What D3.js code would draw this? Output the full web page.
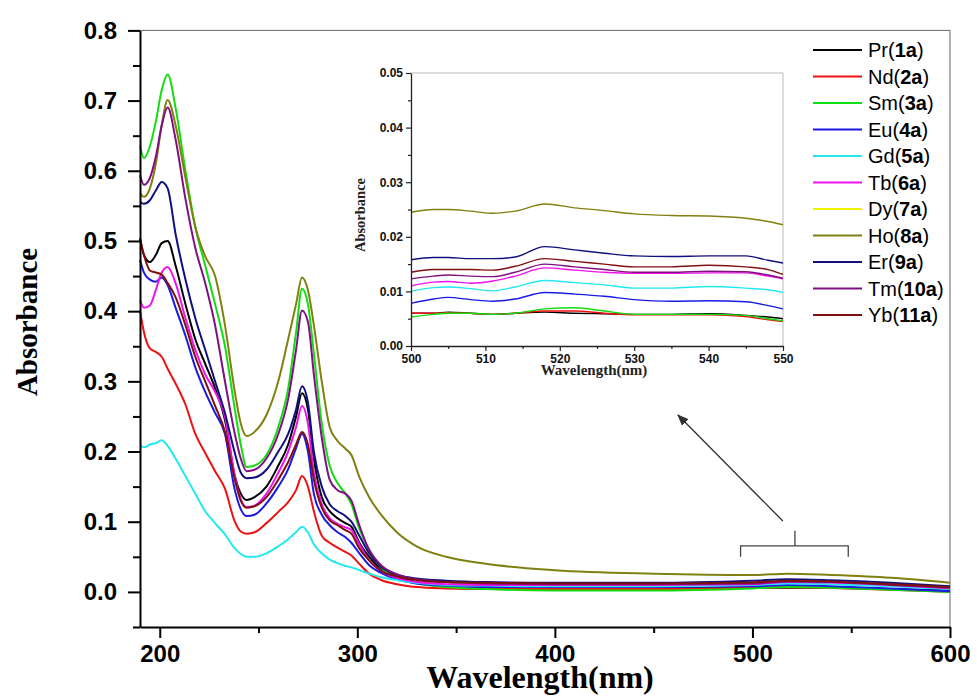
<!DOCTYPE html>
<html>
<head>
<meta charset="utf-8">
<script src="https://cdn.jsdelivr.net/npm/d3@7.9.0/dist/d3.min.js"></script>
<style>
  body { margin: 0; background: #fff; }
  svg { display: block; }
</style>
</head>
<body>
<svg id="chart" width="977" height="696"></svg>
<script>
// main spectrum, 190-600 nm
const wavelengths = [190, 192, 195, 198, 201, 204, 208, 213, 218, 223, 228, 233, 238, 241, 244, 248, 254, 260, 265, 269,
                     272, 275, 278, 282, 286, 290, 294, 297, 301, 306, 312, 320, 330, 345, 365, 400, 450, 500, 518, 540, 570, 600];

const pr = [0.503, 0.48, 0.47, 0.48, 0.497, 0.5, 0.465, 0.41, 0.36, 0.325, 0.29, 0.245, 0.165, 0.14, 0.131, 0.135, 0.15, 0.18, 0.21, 0.25,
            0.283, 0.26, 0.19, 0.135, 0.115, 0.105, 0.098, 0.093, 0.07, 0.05, 0.033, 0.022, 0.014, 0.01, 0.007, 0.006, 0.006, 0.006, 0.006, 0.006, 0.004, 0.002];
const nd = [0.401, 0.37, 0.347, 0.342, 0.335, 0.318, 0.297, 0.267, 0.225, 0.198, 0.172, 0.147, 0.1, 0.086, 0.083, 0.085, 0.098, 0.114, 0.128, 0.145,
            0.165, 0.15, 0.115, 0.08, 0.07, 0.063, 0.057, 0.052, 0.04, 0.026, 0.017, 0.011, 0.007, 0.005, 0.004, 0.004, 0.004, 0.006, 0.0065, 0.0055, 0.003, 0.0];
const sm = [0.636, 0.618, 0.635, 0.67, 0.715, 0.737, 0.69, 0.6, 0.52, 0.465, 0.41, 0.35, 0.26, 0.21, 0.178, 0.18, 0.195, 0.235, 0.29, 0.37,
            0.432, 0.41, 0.34, 0.24, 0.18, 0.155, 0.14, 0.125, 0.09, 0.06, 0.035, 0.02, 0.012, 0.007, 0.004, 0.002, 0.002, 0.005, 0.007, 0.006, 0.003, 0.0];
const eu = [0.473, 0.455, 0.445, 0.442, 0.448, 0.437, 0.405, 0.365, 0.32, 0.285, 0.255, 0.225, 0.145, 0.118, 0.108, 0.11, 0.126, 0.15, 0.175, 0.205,
            0.225, 0.2, 0.14, 0.11, 0.095, 0.085, 0.078, 0.07, 0.055, 0.038, 0.027, 0.018, 0.012, 0.009, 0.007, 0.007, 0.007, 0.008, 0.0098, 0.0082, 0.005, 0.001];
const gd = [0.209, 0.206, 0.21, 0.212, 0.216, 0.208, 0.19, 0.165, 0.14, 0.115, 0.098, 0.082, 0.062, 0.054, 0.05, 0.05, 0.055, 0.065, 0.075, 0.085,
            0.093, 0.085, 0.068, 0.055, 0.046, 0.041, 0.037, 0.035, 0.031, 0.026, 0.021, 0.017, 0.013, 0.01, 0.009, 0.008, 0.008, 0.01, 0.012, 0.0108, 0.008, 0.004];
const tb = [0.416, 0.405, 0.408, 0.43, 0.455, 0.463, 0.44, 0.39, 0.345, 0.31, 0.285, 0.25, 0.165, 0.132, 0.121, 0.123, 0.14, 0.17, 0.2, 0.235,
            0.265, 0.24, 0.17, 0.125, 0.105, 0.097, 0.092, 0.088, 0.068, 0.045, 0.03, 0.02, 0.014, 0.011, 0.01, 0.01, 0.01, 0.011, 0.0142, 0.0135, 0.01, 0.005];
const ho = [0.568, 0.563, 0.575, 0.61, 0.665, 0.701, 0.665, 0.59, 0.52, 0.478, 0.45, 0.38, 0.285, 0.24, 0.222, 0.228, 0.252, 0.3, 0.36, 0.41,
            0.448, 0.43, 0.38, 0.3, 0.235, 0.215, 0.204, 0.195, 0.164, 0.135, 0.11, 0.085, 0.065, 0.05, 0.04, 0.031, 0.026, 0.024, 0.026, 0.024, 0.02, 0.013];
const er = [0.556, 0.553, 0.558, 0.572, 0.584, 0.575, 0.51, 0.445, 0.39, 0.345, 0.3, 0.255, 0.198, 0.17, 0.162, 0.163, 0.174, 0.2, 0.225, 0.26,
            0.293, 0.27, 0.2, 0.15, 0.125, 0.115, 0.108, 0.1, 0.08, 0.055, 0.036, 0.025, 0.019, 0.016, 0.014, 0.013, 0.013, 0.016, 0.018, 0.0165, 0.013, 0.008];
const tm = [0.594, 0.58, 0.59, 0.62, 0.665, 0.69, 0.645, 0.56, 0.49, 0.44, 0.38, 0.3, 0.225, 0.19, 0.172, 0.174, 0.19, 0.225, 0.275, 0.345,
            0.401, 0.385, 0.31, 0.22, 0.16, 0.145, 0.14, 0.13, 0.095, 0.06, 0.038, 0.025, 0.018, 0.014, 0.012, 0.011, 0.011, 0.012, 0.015, 0.014, 0.01, 0.006];
const yb = [0.504, 0.48, 0.458, 0.455, 0.452, 0.44, 0.42, 0.38, 0.335, 0.3, 0.265, 0.228, 0.16, 0.13, 0.12, 0.122, 0.135, 0.16, 0.185, 0.21,
            0.228, 0.21, 0.16, 0.12, 0.102, 0.095, 0.088, 0.083, 0.062, 0.045, 0.03, 0.022, 0.017, 0.014, 0.013, 0.012, 0.012, 0.0135, 0.016, 0.015, 0.011, 0.007];

// inset, 500-550 nm
const insetWavelengths = [500, 503, 505, 508, 511, 514, 518, 522, 526, 530, 535, 540, 545, 548, 550];
const insetPr = [0.006, 0.006, 0.0062, 0.006, 0.0058, 0.006, 0.0062, 0.006, 0.0059, 0.0058, 0.0058, 0.0059, 0.0056, 0.0053, 0.005];
const insetNd = [0.006, 0.006, 0.0061, 0.006, 0.0058, 0.006, 0.0064, 0.0064, 0.006, 0.0057, 0.0057, 0.0057, 0.0054, 0.0048, 0.0045];
const insetSm = [0.0053, 0.0058, 0.006, 0.006, 0.0058, 0.006, 0.0068, 0.007, 0.0064, 0.0058, 0.0058, 0.0058, 0.0056, 0.005, 0.0046];
const insetEu = [0.0078, 0.0086, 0.0089, 0.0085, 0.0082, 0.0086, 0.0098, 0.0095, 0.0091, 0.0085, 0.0082, 0.0083, 0.0081, 0.0074, 0.0068];
const insetGd = [0.01, 0.0107, 0.0108, 0.0105, 0.0101, 0.0108, 0.012, 0.0116, 0.0112, 0.0106, 0.0106, 0.0109, 0.0106, 0.0103, 0.0098];
const insetTb = [0.011, 0.0117, 0.0118, 0.0115, 0.0119, 0.0128, 0.0143, 0.0139, 0.0135, 0.0133, 0.0133, 0.0134, 0.0134, 0.0128, 0.0123];
const insetHo = [0.0245, 0.025, 0.025, 0.0247, 0.0243, 0.0247, 0.026, 0.0253, 0.0248, 0.0242, 0.0239, 0.0238, 0.0234, 0.0228, 0.0222];
const insetEr = [0.0158, 0.0162, 0.0162, 0.016, 0.016, 0.0163, 0.0182, 0.0176, 0.017, 0.0165, 0.0164, 0.0165, 0.0165, 0.0157, 0.0152];
const insetTm = [0.0123, 0.0128, 0.013, 0.0128, 0.0127, 0.0135, 0.015, 0.0145, 0.014, 0.0135, 0.0135, 0.0137, 0.0136, 0.013, 0.0124];
const insetYb = [0.0135, 0.014, 0.014, 0.014, 0.0139, 0.0146, 0.016, 0.0155, 0.015, 0.0145, 0.0145, 0.0148, 0.0145, 0.014, 0.0131];

const elements = ['Pr', 'Nd', 'Sm', 'Eu', 'Gd', 'Tb', 'Dy', 'Ho', 'Er', 'Tm', 'Yb'];
const codes    = ['1a', '2a', '3a', '4a', '5a', '6a', '7a', '8a', '9a', '10a', '11a'];
const colors   = ['#000000', '#ee1111', '#11dd11', '#1a1ae6', '#22e8f0', '#f010f0', '#f0f000', '#808010', '#10107f', '#801080', '#801010'];
// Dy (7a) is in the legend but no yellow trace shows in the figure
const mainValues  = [pr, nd, sm, eu, gd, tb, null, ho, er, tm, yb];
const insetValues = [insetPr, insetNd, insetSm, insetEu, insetGd, insetTb, null, insetHo, insetEr, insetTm, insetYb];

const xTicks = [200, 300, 400, 500, 600];
const xMinor = [250, 350, 450, 550];
const yTicks = [0, 0.1, 0.2, 0.3, 0.4, 0.5, 0.6, 0.7, 0.8];
const yMinor = [-0.05, 0.05, 0.15, 0.25, 0.35, 0.45, 0.55, 0.65, 0.75];
const insetXTicks = [500, 510, 520, 530, 540, 550];
const insetXMinor = [505, 515, 525, 535, 545];
const insetYTicks = [0, 0.01, 0.02, 0.03, 0.04, 0.05];
const insetYMinor = [0.005, 0.015, 0.025, 0.035, 0.045];

const svg = d3.select('#chart');
const sans = "'Liberation Sans', Arial, sans-serif";
const serif = "'Liberation Serif', 'Times New Roman', serif";

const x = d3.scaleLinear().domain([190, 600]).range([140, 950]);
const y = d3.scaleLinear().domain([-0.05, 0.8]).range([627, 30.4]);

// frame (top/right light)
svg.append('line').attr('x1', x(190)).attr('x2', x(600)).attr('y1', y(0.8)).attr('y2', y(0.8))
  .attr('stroke', '#666').attr('stroke-width', 1);
svg.append('line').attr('x1', x(600)).attr('x2', x(600)).attr('y1', y(0.8)).attr('y2', y(-0.05))
  .attr('stroke', '#666').attr('stroke-width', 1);

// curves
const line = d3.line()
  .x(d => x(d[0]))
  .y(d => y(d[1]))
  .curve(d3.curveMonotoneX);

const curves = svg.append('g').attr('class', 'curves');
mainValues.forEach((vals, i) => {
  if (!vals) return;
  curves.append('path')
    .datum(d3.zip(wavelengths, vals))
    .attr('d', line)
    .attr('fill', 'none')
    .attr('stroke', colors[i])
    .attr('stroke-width', 2);
});

// axes
function styleAxis(g, size) {
  g.selectAll('.domain').attr('stroke', '#000').attr('stroke-width', 2);
  g.selectAll('.tick line').attr('stroke', '#000').attr('stroke-width', 2);
  g.selectAll('.tick text').attr('font-family', sans).attr('font-weight', 'bold').attr('font-size', size).attr('fill', '#000');
}

const xAxis = svg.append('g').attr('transform', `translate(0,${y(-0.05)})`)
  .call(d3.axisBottom(x).tickValues(xTicks).tickSize(11).tickSizeOuter(0).tickPadding(7).tickFormat(d3.format('d')));
styleAxis(xAxis, 24);
svg.append('g').attr('transform', `translate(0,${y(-0.05)})`)
  .call(d3.axisBottom(x).tickValues(xMinor).tickSize(6).tickFormat(''))
  .call(g => { g.select('.domain').remove(); g.selectAll('line').attr('stroke', '#000').attr('stroke-width', 2); });

const yAxis = svg.append('g').attr('transform', `translate(${x(190)},0)`)
  .call(d3.axisLeft(y).tickValues(yTicks).tickSize(12).tickSizeOuter(0).tickPadding(11).tickFormat(d3.format('.1f')));
styleAxis(yAxis, 24);
svg.append('g').attr('transform', `translate(${x(190)},0)`)
  .call(d3.axisLeft(y).tickValues(yMinor).tickSize(7).tickFormat(''))
  .call(g => { g.select('.domain').remove(); g.selectAll('line').attr('stroke', '#000').attr('stroke-width', 2); });

// axis titles
svg.append('text')
  .attr('x', 540).attr('y', 688)
  .attr('text-anchor', 'middle')
  .attr('font-family', serif).attr('font-weight', 'bold').attr('font-size', 32)
  .text('Wavelength(nm)');

svg.append('text')
  .attr('transform', 'translate(37,322) rotate(-90)')
  .attr('text-anchor', 'middle')
  .attr('font-family', serif).attr('font-weight', 'bold').attr('font-size', 29)
  .text('Absorbance');

// legend
const legend = svg.append('g').attr('transform', 'translate(813,50)');
elements.forEach((el, i) => {
  const row = legend.append('g').attr('transform', `translate(0,${i * 26.5})`);
  row.append('line').attr('x1', 0).attr('x2', 49).attr('y1', 0).attr('y2', 0)
    .attr('stroke', colors[i]).attr('stroke-width', 2);
  const t = row.append('text').attr('x', 55).attr('y', 7)
    .attr('font-family', sans).attr('font-size', 20).attr('fill', '#000');
  t.append('tspan').text(el + '(');
  t.append('tspan').attr('font-weight', 'bold').text(codes[i]);
  t.append('tspan').text(')');
});

// bracket + arrow pointing at the inset
svg.append('defs').append('marker')
  .attr('id', 'arrow').attr('viewBox', '0 0 10 10').attr('refX', 9).attr('refY', 5)
  .attr('markerWidth', 9).attr('markerHeight', 9).attr('orient', 'auto')
  .append('path').attr('d', 'M0,1 L10,5 L0,9 Z').attr('fill', '#333');

const bracket = d3.path();
bracket.moveTo(x(494), y(0.05));
bracket.lineTo(x(494), y(0.0655));
bracket.lineTo(x(548.5), y(0.0655));
bracket.lineTo(x(548.5), y(0.05));
bracket.moveTo(x(521.5), y(0.0655));
bracket.lineTo(x(521.5), y(0.087));
svg.append('path').attr('d', bracket.toString())
  .attr('fill', 'none').attr('stroke', '#444').attr('stroke-width', 1.3);

svg.append('line')
  .attr('x1', x(515.4)).attr('y1', y(0.101))
  .attr('x2', x(462.3)).attr('y2', y(0.252))
  .attr('stroke', '#333').attr('stroke-width', 1.3)
  .attr('marker-end', 'url(#arrow)');

// inset
const xi = d3.scaleLinear().domain([500, 550]).range([411, 783]);
const yi = d3.scaleLinear().domain([0, 0.05]).range([346, 73]);
const inset = svg.append('g').attr('class', 'inset');

inset.append('line').attr('x1', xi(500)).attr('x2', xi(550)).attr('y1', yi(0.05)).attr('y2', yi(0.05))
  .attr('stroke', '#bbb').attr('stroke-width', 1);
inset.append('line').attr('x1', xi(550)).attr('x2', xi(550)).attr('y1', yi(0.05)).attr('y2', yi(0))
  .attr('stroke', '#bbb').attr('stroke-width', 1);

const insetLine = d3.line()
  .x(d => xi(d[0]))
  .y(d => yi(d[1]))
  .curve(d3.curveMonotoneX);

insetValues.forEach((vals, i) => {
  if (!vals) return;
  inset.append('path')
    .datum(d3.zip(insetWavelengths, vals))
    .attr('d', insetLine)
    .attr('fill', 'none')
    .attr('stroke', colors[i])
    .attr('stroke-width', 1.4);
});

function styleInsetAxis(g) {
  g.selectAll('.domain').attr('stroke', '#222').attr('stroke-width', 1.3);
  g.selectAll('.tick line').attr('stroke', '#222').attr('stroke-width', 1.2);
  g.selectAll('.tick text').attr('font-family', sans).attr('font-weight', 'bold').attr('font-size', 12).attr('fill', '#111');
}

inset.append('g').attr('transform', `translate(0,${yi(0)})`)
  .call(d3.axisBottom(xi).tickValues(insetXTicks).tickSize(5).tickSizeOuter(0).tickPadding(3).tickFormat(d3.format('d')))
  .call(styleInsetAxis);
inset.append('g').attr('transform', `translate(0,${yi(0)})`)
  .call(d3.axisBottom(xi).tickValues(insetXMinor).tickSize(3).tickFormat(''))
  .call(g => { g.select('.domain').remove(); g.selectAll('line').attr('stroke', '#222').attr('stroke-width', 1.2); });

inset.append('g').attr('transform', `translate(${xi(500)},0)`)
  .call(d3.axisLeft(yi).tickValues(insetYTicks).tickSize(5).tickSizeOuter(0).tickPadding(3).tickFormat(d3.format('.2f')))
  .call(styleInsetAxis);
inset.append('g').attr('transform', `translate(${xi(500)},0)`)
  .call(d3.axisLeft(yi).tickValues(insetYMinor).tickSize(3).tickFormat(''))
  .call(g => { g.select('.domain').remove(); g.selectAll('line').attr('stroke', '#222').attr('stroke-width', 1.2); });

inset.append('text')
  .attr('x', 594).attr('y', 375)
  .attr('text-anchor', 'middle')
  .attr('font-family', serif).attr('font-weight', 'bold').attr('font-size', 15).attr('fill', '#222')
  .text('Wavelength(nm)');

inset.append('text')
  .attr('transform', 'translate(365,215) rotate(-90)')
  .attr('text-anchor', 'middle')
  .attr('font-family', serif).attr('font-weight', 'bold').attr('font-size', 14.5).attr('fill', '#222')
  .text('Absorbance');
</script>
</body>
</html>
